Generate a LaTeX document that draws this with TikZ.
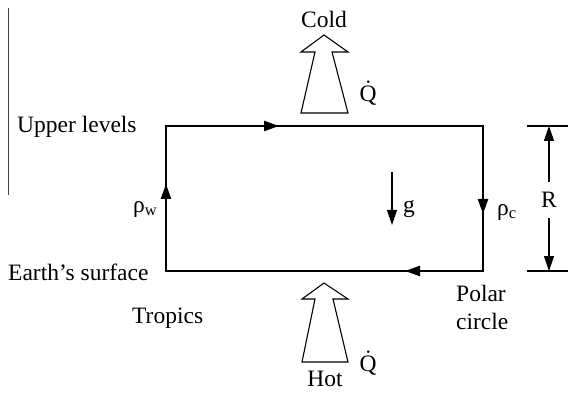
\documentclass[tikz,border=0pt]{standalone}
\usepackage{fontspec}
\setmainfont{Liberation Serif}
\usetikzlibrary{arrows.meta,positioning,calc}

\begin{document}
\begin{tikzpicture}[
        x=1pt, y=-1pt,
        txt/.style={font=\fontsize{23.5}{28}\selectfont, inner sep=0pt},
        loopline/.style={line width=1.4pt},
        flow/.style={line width=2.4pt, -{Triangle[length=15pt,width=10pt]}},
        dimarrow/.style={line width=1.2pt, -{Triangle[length=15pt,width=10pt]}},
        heat/.style={draw, line width=1.1pt, fill=white, line join=miter}
    ]
        \useasboundingbox (0,0) rectangle (568,393);

        % stray margin rule
        \coordinate (ruleA) at (8,8);
        \coordinate (ruleB) at (8,195);
        \draw[line width=1pt, black!75] (ruleA) -- (ruleB);

        % Circulation loop
        \coordinate (tl) at (166,126);
        \coordinate (tr) at (483,126);
        \coordinate (br) at (483,271);
        \coordinate (bl) at (166,271);
        \draw[loopline] (tl) -- (tr) -- (br) -- (bl) -- cycle;

        % Flow direction markers
        \coordinate (topA) at (241,126);   \coordinate (topB) at (279,126);
        \coordinate (rightA) at (483,180); \coordinate (rightB) at (483,214);
        \coordinate (botA) at (440,271);   \coordinate (botB) at (405,271);
        \coordinate (leftA) at (166,216);  \coordinate (leftB) at (166,184);
        \draw[flow] (topA) -- (topB);
        \draw[flow] (rightA) -- (rightB);
        \draw[flow] (botA) -- (botB);
        \draw[flow] (leftA) -- (leftB);

        % Heat out (top) and heat in (bottom)
        \draw[heat] (301,113) -- (315,52) -- (301,52) -- (324,35) -- (348,52) -- (332,52) -- (348,113) -- cycle;
        \draw[heat] (302,362) -- (315,299) -- (302,299) -- (324,283) -- (348,299) -- (333,299) -- (348,362) -- cycle;

        \node[txt] (cold) at (324,19) {Cold};
        \node[txt] (hot) at (325,379) {Hot};
        \node[txt] (qout) at (368,93) {\.{Q}};
        \node[txt] (qin) at (368,363) {\.{Q}};

        % Labels
        \node[txt, anchor=base west] (upper) at (17,133) {Upper levels};
        \node[txt, anchor=base west] (surface) at (8,280) {Earth’s surface};
        \node[txt, anchor=base west] (tropics) at (132,323) {Tropics};
        \node[txt, anchor=base west] (polar) at (456,301) {Polar};
        \node[txt, anchor=base west] (circle) at ($(polar.base west)+(0,28)$) {circle};
        \node[txt, anchor=base west] (rhow) at (133,212) {ρ\textsubscript{w}};
        \node[txt, anchor=base west] (rhoc) at (497,215) {ρ\textsubscript{c}};

        % Gravity
        \coordinate (gA) at (392,172);
        \coordinate (gB) at (392,225);
        \draw[dimarrow] (gA) -- (gB);
        \node[txt, anchor=base west] (g) at (403,213) {g};

        % Height R
        \coordinate (tickTopA) at (527,126); \coordinate (tickTopB) at (568,126);
        \coordinate (tickBotA) at (527,271); \coordinate (tickBotB) at (568,271);
        \draw[line width=1.2pt] (tickTopA) -- (tickTopB);
        \draw[line width=1.2pt] (tickBotA) -- (tickBotB);
        \node[txt, inner ysep=10pt] (R) at (549,200) {R};
        \draw[dimarrow] (R.north) -- (R.north |- tickTopA);
        \draw[dimarrow] (R.south) -- (R.south |- tickBotA);
    \end{tikzpicture}
\end{document}
